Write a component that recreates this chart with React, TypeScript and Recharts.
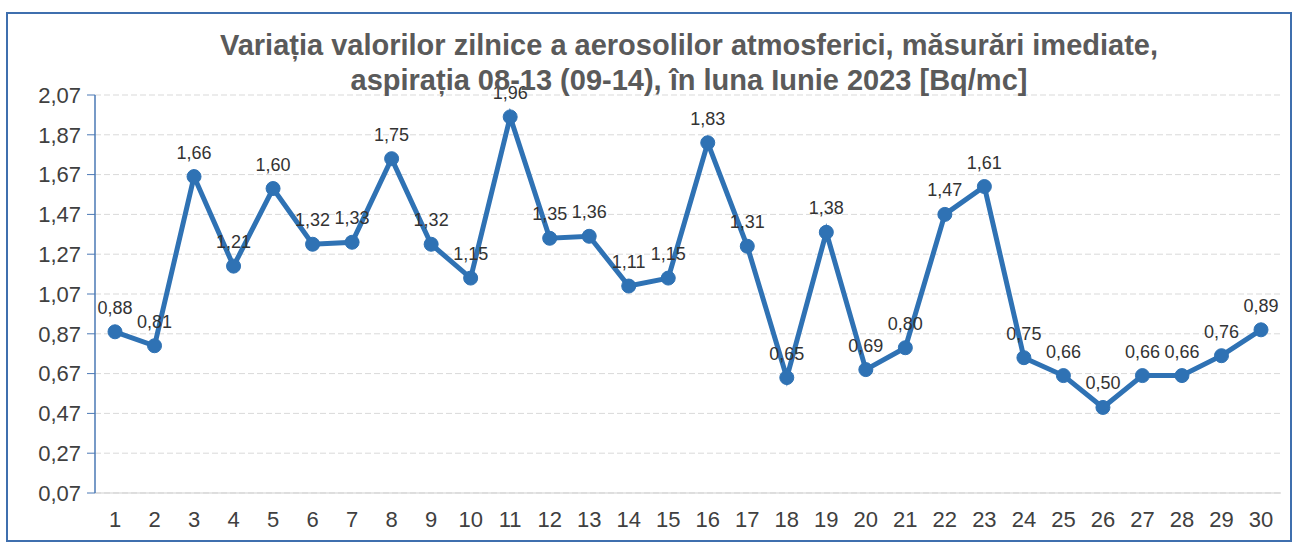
import React from 'react';
import { LineChart, Line, XAxis, YAxis, CartesianGrid, LabelList } from 'recharts';

const days = Array.from({ length: 30 }, (_, i) => String(i + 1));
const values = [
  0.88, 0.81, 1.66, 1.21, 1.6, 1.32, 1.33, 1.75, 1.32, 1.15,
  1.96, 1.35, 1.36, 1.11, 1.15, 1.83, 1.31, 0.65, 1.38, 0.69,
  0.8, 1.47, 1.61, 0.75, 0.66, 0.5, 0.66, 0.66, 0.76, 0.89,
];
const yTicks = [0.07, 0.27, 0.47, 0.67, 0.87, 1.07, 1.27, 1.47, 1.67, 1.87, 2.07];
const titleLines = [
  'Variația valorilor zilnice a aerosolilor atmosferici, măsurări imediate,',
  'aspirația 08-13 (09-14),  în luna Iunie 2023 [Bq/mc]',
];

const data = days.map((d, i) => ({ day: d, value: values[i] }));
const fmt = (v: number) => v.toFixed(2).replace('.', ',');

export default function App() {
  return (
    <div
      style={{
        position: 'absolute',
        left: 0,
        top: 0,
        width: 1302,
        height: 544,
        background: '#fff',
        fontFamily: 'Liberation Sans, Arial, sans-serif',
      }}
    >
      <div
        style={{
          position: 'absolute',
          left: 6,
          top: 12,
          width: 1282,
          height: 526,
          border: '2px solid #3f6fae',
        }}
      />
      <LineChart
        width={1302}
        height={544}
        data={data}
        margin={{ top: 95, right: 21, bottom: 21, left: 0 }}
        style={{ position: 'absolute', left: 0, top: 0 }}
      >
        <CartesianGrid vertical={false} stroke="#d9d9d9" strokeDasharray="6 3" />
        <XAxis
          dataKey="day"
          axisLine={{ stroke: '#cfcfcf' }}
          tickLine={false}
          padding={{ left: 20, right: 20 }}
          tick={{ fill: '#404040', fontSize: 22 }}
          tickMargin={12}
          interval={0}
        />
        <YAxis
          domain={[0.07, 2.07]}
          ticks={yTicks}
          width={95}
          axisLine={{ stroke: '#4a78b5', strokeWidth: 1.5 }}
          tickLine={{ stroke: '#4a78b5' }}
          tickSize={8}
          tickMargin={6}
          tickFormatter={fmt}
          tick={{ fill: '#404040', fontSize: 22 }}
          interval={0}
        />
        <Line
          type="linear"
          dataKey="value"
          stroke="#2f72b4"
          strokeWidth={5}
          dot={{ r: 7, fill: '#2f72b4', stroke: '#2f72b4', strokeWidth: 1 }}
          isAnimationActive={false}
        >
          <LabelList
            dataKey="value"
            position="top"
            offset={18}
            formatter={(v: any) => fmt(Number(v))}
            style={{ fill: '#333', fontSize: 18 }}
          />
        </Line>
      </LineChart>
      <div
        style={{
          position: 'absolute',
          left: 0,
          top: 28,
          width: 1378,
          textAlign: 'center',
          fontWeight: 'bold',
          fontSize: 29,
          lineHeight: '35px',
          color: '#5a5a5a',
          pointerEvents: 'none',
        }}
      >
        {titleLines.map((t) => (
          <div key={t}>{t}</div>
        ))}
      </div>
    </div>
  );
}
